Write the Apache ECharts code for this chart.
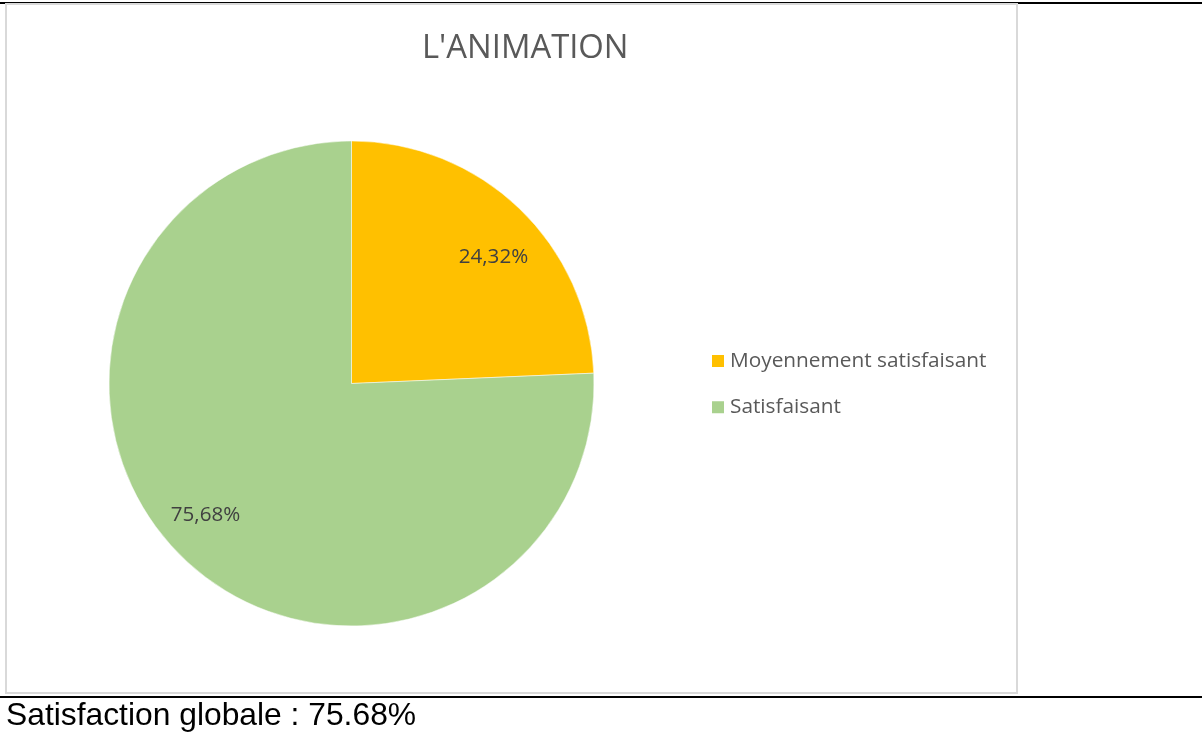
<!DOCTYPE html>
<html>
<head>
<meta charset="utf-8">
<script src="https://cdn.jsdelivr.net/npm/echarts@6/dist/echarts.min.js"></script>
<style>
  html, body { margin: 0; padding: 0; background: #ffffff; }
  body { width: 1202px; height: 733px; position: relative; overflow: hidden; }
  .rule { position: absolute; background: #000; }
  #box { position: absolute; left: 5px; top: 3px; width: 1009px; height: 687px; border: 2px solid #d9d9d9; }
  #chart { position: absolute; left: 0; top: 0; width: 1202px; height: 733px; }
</style>
</head>
<body>
<div class="rule" style="left:0;top:2px;width:1202px;height:2px;"></div>
<div id="box"></div>
<div class="rule" style="left:0;top:696px;width:1202px;height:2px;"></div>
<div id="chart"></div>
<script>
const chartTitle = "L'ANIMATION";
const footnote = 'Satisfaction globale : 75.68%';
const categories = ['Moyennement satisfaisant', 'Satisfaisant'];
const values = [24.32, 75.68];
const labels = ['24,32%', '75,68%'];
const colors = ['#FFC000', '#A9D18E'];

const labelOffsets = [[56, -37], [-60, 42]];

const chart = echarts.init(document.getElementById('chart'), null, { renderer: 'canvas' });
chart.setOption({
  animation: false,
  title: [
    {
      text: chartTitle,
      left: 422,
      top: 32.5,
      padding: 0,
      textStyle: { fontFamily: 'Open Sans', fontSize: 32.8, fontWeight: 'normal', color: '#595959' }
    },
    {
      text: footnote,
      left: 6,
      top: 700,
      padding: 0,
      textStyle: { fontFamily: 'Liberation Sans', fontSize: 31.8, fontWeight: 'normal', color: '#000000' }
    }
  ],
  legend: {
    orient: 'vertical',
    left: 710,
    top: 350.5,
    padding: 0,
    itemWidth: 14,
    itemHeight: 14,
    itemGap: 25.2,
    icon: 'rect',
    data: categories,
    textStyle: { fontFamily: 'Open Sans', fontSize: 20.8, color: '#595959' }
  },
  series: [{
    type: 'pie',
    center: [351.5, 383.5],
    radius: [0, 242.5],
    startAngle: 90,
    clockwise: true,
    avoidLabelOverlap: false,
    label: {
      show: true,
      position: 'inside',
      fontFamily: 'Open Sans',
      fontSize: 20.6,
      color: '#404040'
    },
    labelLine: { show: false },
    emphasis: { disabled: true },
    itemStyle: { borderColor: '#ffffff', borderWidth: 0.5 },
    data: categories.map((name, i) => ({
      name: name,
      value: values[i],
      itemStyle: { color: colors[i] },
      label: { formatter: labels[i], offset: labelOffsets[i] }
    }))
  }]
});
</script>
</body>
</html>
